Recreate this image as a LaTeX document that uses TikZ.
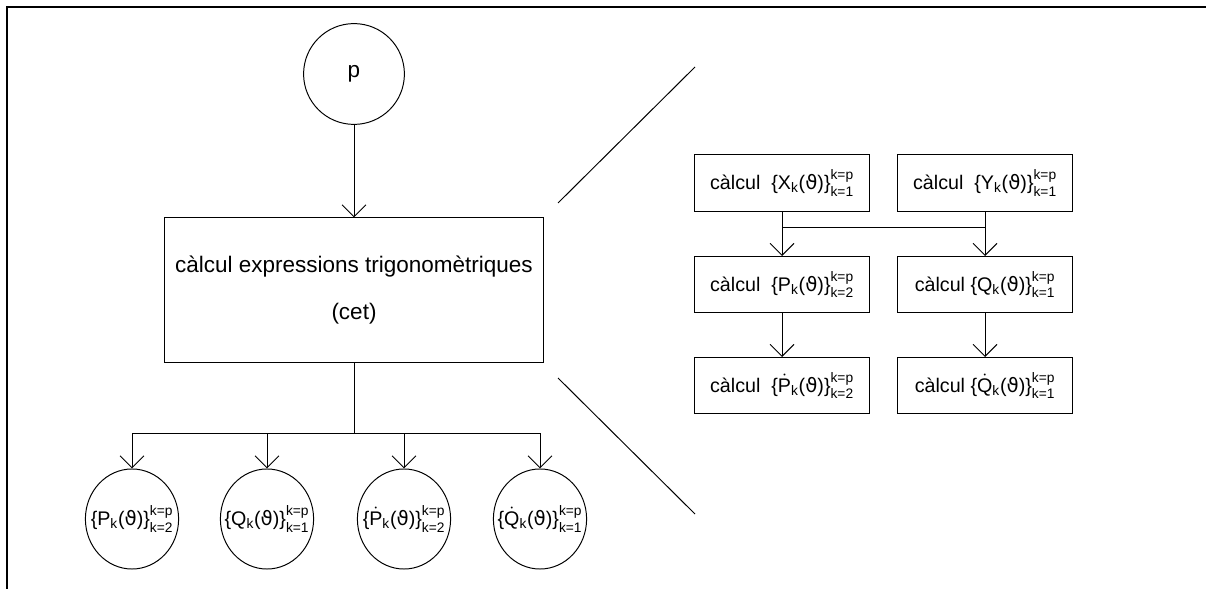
\documentclass[tikz,border=0pt]{standalone}
\usepackage{amsmath}
\usepackage{fontspec}
\setmainfont{Liberation Sans}
\newfontfamily\dejavu{DejaVu Sans}
\usetikzlibrary{arrows.meta,shapes.geometric}
% suite indexada {X_k(theta)}
\newcommand{\thv}{{\dejavu ϑ}}
\newcommand{\suite}[2]{\{#1$_{\text{k}}$(\thv)\}$^{\text{k=p}}_{\text{k=#2}}$}
\newcommand{\pdot}{$\dot{\text{P}}$}
\newcommand{\qdot}{$\dot{\text{Q}}$}

\begin{document}
\begin{tikzpicture}[x=0.025cm, y=-0.025cm, line width=0.7pt,
    >={Straight Barb[length=8.5pt,width=17pt,line width=0.7pt]},
    rond/.style={circle, draw, minimum size=2.52cm, inner sep=0pt, font=\fontsize{16}{19}\selectfont},
    fulla/.style={ellipse, draw, minimum width=2.33cm, minimum height=2.5cm, inner sep=0pt, font=\fontsize{14}{17}\selectfont},
    caixa/.style={rectangle, draw, minimum width=4.35cm, minimum height=1.4cm, inner sep=0pt, font=\fontsize{14}{17}\selectfont}]
    \useasboundingbox (0,0) rectangle (1206,589);
    % marc
    \draw[line width=1.8pt] (7,589) -- (7,7) -- (1206,7);
    % entrada p
    \node[rond] (p) at (354,74) {p};
    % bloc principal
    \node[draw, minimum width=9.45cm, minimum height=3.6cm, align=center,
          font=\fontsize{16}{33}\selectfont] (cet) at (354,290)
          {càlcul expressions trigonomètriques\\(cet)};
    \draw[->] (p) -- (cet);
    % sortides
    \node[fulla] (r1) at (132,519) {\makebox[0pt]{\suite{P}{2}}};
    \node[fulla] (r2) at (267,519) {\makebox[0pt]{\suite{Q}{1}}};
    \node[fulla] (r3) at (404,519) {\makebox[0pt]{\suite{\pdot}{2}}};
    \node[fulla] (r4) at (540,519) {\makebox[0pt]{\suite{\qdot}{1}}};
    \coordinate (fork) at (354,433);
    \draw (cet) -- (fork);
    \foreach \r in {r1,r2,r3,r4}
        \draw[->] (fork) -| (\r.north);
    % lupa
    \draw (558,203) -- (695,67);
    \draw (558,378) -- (695,514);
    % detall del bloc cet
    \node[caixa] (x)  at (782,183)   {càlcul\ \ \suite{X}{1}};
    \node[caixa] (y)  at (985,183)   {càlcul\ \ \suite{Y}{1}};
    \node[caixa] (pk) at (782,284.5) {càlcul\ \ \suite{P}{2}};
    \node[caixa] (qk) at (985,284.5) {càlcul \suite{Q}{1}};
    \node[caixa] (pd) at (782,385.5) {càlcul\ \ \suite{\pdot}{2}};
    \node[caixa] (qd) at (985,385.5) {càlcul \suite{\qdot}{1}};
    \coordinate (busl) at (782,227);
    \coordinate (busr) at (985,227);
    \draw (x) -- (busl) -- (busr);
    \draw (y) -- (busr);
    \draw[->] (busl) -- (pk);
    \draw[->] (busr) -- (qk);
    \draw[->] (pk) -- (pd);
    \draw[->] (qk) -- (qd);
\end{tikzpicture}
\end{document}
